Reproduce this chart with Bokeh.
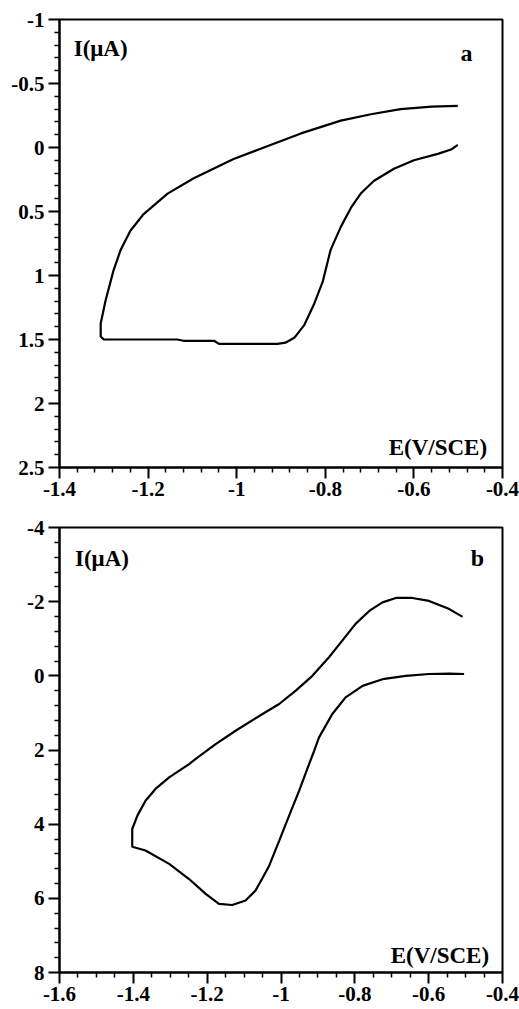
import numpy as np
from bokeh.plotting import figure
from bokeh.layouts import column
from bokeh.models import Range1d, FixedTicker, Label
from bokeh.embed import file_html
from bokeh.resources import INLINE

# ---------------- data: panel a ----------------
a_E = [-0.501, -0.516, -0.546, -0.600, -0.645, -0.690, -0.720, -0.742, -0.765, -0.788,
       -0.806, -0.825, -0.848, -0.870, -0.890, -0.908, -0.946, -1.040, -1.051, -1.120,
       -1.134, -1.300, -1.307,
       -1.307, -1.296, -1.278, -1.262, -1.240, -1.210, -1.156, -1.097, -1.007, -0.946,
       -0.855, -0.765, -0.697, -0.630, -0.560, -0.501]
a_I = [-0.02, 0.016, 0.05, 0.10, 0.166, 0.26, 0.36, 0.47, 0.62, 0.80,
       1.05, 1.22, 1.39, 1.487, 1.525, 1.534, 1.534, 1.534, 1.51, 1.51,
       1.50, 1.50, 1.477,
       1.375, 1.195, 0.96, 0.80, 0.65, 0.52, 0.36, 0.24, 0.09, 0.01,
       -0.11, -0.21, -0.26, -0.30, -0.32, -0.325]

a_xticks = [-1.4, -1.2, -1.0, -0.8, -0.6, -0.4]
a_xlabels = ["-1.4", "-1.2", "-1", "-0.8", "-0.6", "-0.4"]
a_yticks = [-1.0, -0.5, 0.0, 0.5, 1.0, 1.5, 2.0, 2.5]
a_ylabels = ["-1", "-0.5", "0", "0.5", "1", "1.5", "2", "2.5"]

# ---------------- data: panel b ----------------
b_E = [-0.504, -0.544, -0.599, -0.662, -0.725, -0.779, -0.825, -0.861, -0.897, -0.910,
       -0.924, -0.951, -0.978, -1.005, -1.032, -1.050, -1.069, -1.096, -1.132, -1.168,
       -1.204, -1.249, -1.303, -1.367, -1.403,
       -1.403, -1.389, -1.367, -1.340, -1.303, -1.249, -1.231, -1.177, -1.123,
       -1.050, -1.005, -0.960, -0.915, -0.870, -0.834, -0.798, -0.761, -0.725, -0.689,
       -0.644, -0.599, -0.544, -0.508]
b_I = [-0.05, -0.06, -0.05, 0.0, 0.09, 0.27, 0.58, 1.03, 1.66, 2.02,
       2.38, 3.10, 3.77, 4.45, 5.12, 5.45, 5.79, 6.06, 6.18, 6.15,
       5.88, 5.48, 5.07, 4.71, 4.61,
       4.13, 3.77, 3.37, 3.05, 2.74, 2.38, 2.24, 1.84, 1.48,
       1.03, 0.76, 0.40, 0.0, -0.50, -0.95, -1.40, -1.75, -1.98, -2.10,
       -2.10, -2.02, -1.80, -1.59]

b_xticks = [-1.6, -1.4, -1.2, -1.0, -0.8, -0.6, -0.4]
b_xlabels = ["-1.6", "-1.4", "-1.2", "-1", "-0.8", "-0.6", "-0.4"]
b_yticks = [-4.0, -2.0, 0.0, 2.0, 4.0, 6.0, 8.0]
b_ylabels = ["-4", "-2", "0", "2", "4", "6", "8"]

FONT = "Liberation Serif"


def minor(ticks, n):
    out = []
    for t0, t1 in zip(ticks[:-1], ticks[1:]):
        step = (t1 - t0) / n
        out += [round(t0 + k * step, 6) for k in range(1, n)]
    return out


def make_panel(E, I, xticks, xlabels, yticks, ylabels, xminor_n, yminor_n,
               frame_h, left, right, top, bottom, letter, pos):
    p = figure(frame_width=443, frame_height=frame_h,
               x_range=Range1d(xticks[0], xticks[-1]),
               y_range=Range1d(yticks[-1], yticks[0]),
               output_backend="svg", toolbar_location=None,
               min_border_left=left, min_border_right=right,
               min_border_top=top, min_border_bottom=bottom)
    p.background_fill_color = "white"
    p.border_fill_color = "white"
    p.outline_line_color = "black"
    p.outline_line_width = 2
    p.grid.visible = False

    p.xaxis.ticker = FixedTicker(ticks=xticks, minor_ticks=minor(xticks, xminor_n))
    p.yaxis.ticker = FixedTicker(ticks=yticks, minor_ticks=minor(yticks, yminor_n))
    p.xaxis.major_label_overrides = {t: s for t, s in zip(xticks, xlabels)}
    p.yaxis.major_label_overrides = {t: s for t, s in zip(yticks, ylabels)}

    for ax in (p.xaxis[0], p.yaxis[0]):
        ax.axis_line_width = 2
        ax.axis_line_color = "black"
        ax.major_tick_line_width = 2
        ax.minor_tick_line_width = 1.5
        ax.major_tick_line_color = "black"
        ax.minor_tick_line_color = "black"
        ax.major_tick_in = 0
        ax.major_tick_out = 11
        ax.minor_tick_in = 0
        ax.minor_tick_out = 5
        ax.major_label_text_font = FONT
        ax.major_label_text_font_style = "bold"
        ax.major_label_text_font_size = "21px"
        ax.major_label_text_color = "black"
    p.xaxis.major_label_standoff = 3
    p.yaxis.major_label_standoff = 4

    p.line(E, I, line_color="black", line_width=2.2)

    (ix, iy), (lx, ly), (ex, ey) = pos
    p.add_layout(Label(x=ix, y=iy, text="I(\u03bcA)", text_font=FONT,
                       text_font_style="bold", text_font_size="23px",
                       text_color="black", text_baseline="alphabetic"))
    p.add_layout(Label(x=lx, y=ly, text=letter, text_font=FONT,
                       text_font_style="bold", text_font_size="24px",
                       text_color="black", text_baseline="alphabetic"))
    p.add_layout(Label(x=ex, y=ey, text="E(V/SCE)", text_font=FONT,
                       text_font_style="bold", text_font_size="23px",
                       text_color="black", text_baseline="alphabetic"))
    return p


pa = make_panel(a_E, a_I, a_xticks, a_xlabels, a_yticks, a_ylabels, 5, 5,
                448, 59, 17, 19, 38, "a",
                ((-1.368, -0.771), (-0.495, -0.738), (-0.657, 2.344)))
pb = make_panel(b_E, b_I, b_xticks, b_xlabels, b_yticks, b_ylabels, 4, 5,
                445, 57, 19, 22, 37, "b",
                ((-1.558, -3.156), (-0.486, -3.175), (-0.703, 7.545)))

layout = column(pa, pb, spacing=0)
open("out.html", "w").write(file_html(layout, INLINE))
